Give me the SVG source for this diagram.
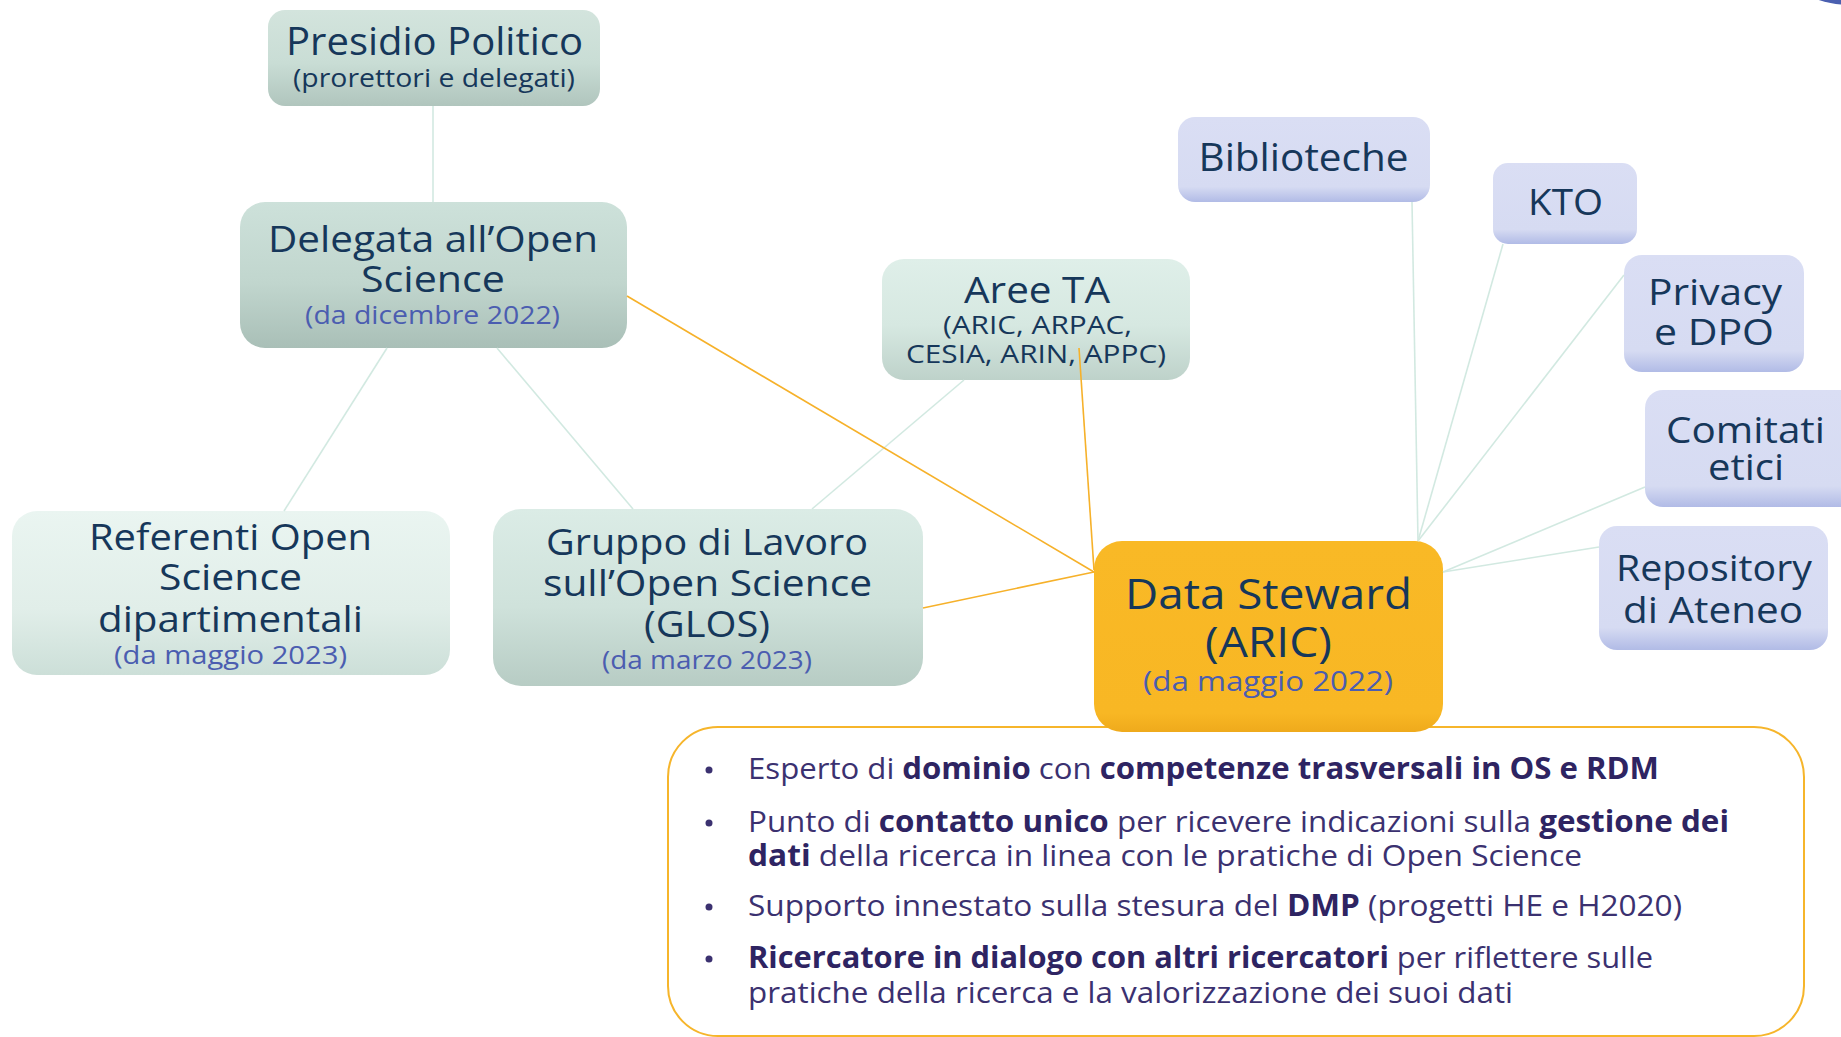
<svg xmlns="http://www.w3.org/2000/svg" width="1841" height="1037" viewBox="0 0 1841 1037">
<style>
.t{font-family:"Open Sans","Noto Sans","Liberation Sans",sans-serif;fill:#16375a;text-anchor:middle}
.sub{font-family:"Open Sans","Noto Sans","Liberation Sans",sans-serif;fill:#4b5db0;text-anchor:middle}
.b{font-family:"Open Sans","Noto Sans","Liberation Sans",sans-serif;fill:#3b3170;font-size:30px}
.bb{font-weight:700;fill:#2e2462}
.teal{stroke:#d2e9e1;stroke-width:1.6;fill:none}
.orng{stroke:#f6b12a;stroke-width:1.6;fill:none}
</style>
<defs>
<linearGradient id="gTealA" x1="0" y1="0" x2="0" y2="1">
<stop offset="0" stop-color="#d3e4dd"/><stop offset="0.55" stop-color="#c9ddd5"/><stop offset="1" stop-color="#b0c5bd"/>
</linearGradient>
<linearGradient id="gTealB" x1="0" y1="0" x2="0" y2="1">
<stop offset="0" stop-color="#cde1da"/><stop offset="0.55" stop-color="#c1d6ce"/><stop offset="1" stop-color="#a9bfb7"/>
</linearGradient>
<linearGradient id="gTealL" x1="0" y1="0" x2="0" y2="1">
<stop offset="0" stop-color="#eaf5f1"/><stop offset="0.6" stop-color="#e1eee9"/><stop offset="1" stop-color="#ccdfd8"/>
</linearGradient>
<linearGradient id="gTealM" x1="0" y1="0" x2="0" y2="1">
<stop offset="0" stop-color="#dbece6"/><stop offset="0.55" stop-color="#cfe2db"/><stop offset="1" stop-color="#b7ccc4"/>
</linearGradient>
<linearGradient id="gTealT" x1="0" y1="0" x2="0" y2="1">
<stop offset="0" stop-color="#dfefe9"/><stop offset="0.55" stop-color="#d6e8e1"/><stop offset="1" stop-color="#bed2ca"/>
</linearGradient>
<linearGradient id="gBlue" x1="0" y1="0" x2="0" y2="1">
<stop offset="0" stop-color="#dadef4"/><stop offset="0.82" stop-color="#d6dbf2"/><stop offset="1" stop-color="#b1bbe6"/>
</linearGradient>
<linearGradient id="gGold" x1="0" y1="0" x2="0" y2="1">
<stop offset="0" stop-color="#f9b926"/><stop offset="0.9" stop-color="#f8b724"/><stop offset="1" stop-color="#efaa1c"/>
</linearGradient>
</defs>
<rect width="1841" height="1037" fill="#ffffff"/>
<circle cx="1850" cy="-95" r="100" fill="#4a5fb0"/>

<g id="info-box">
<rect x="668" y="727" width="1136" height="309" rx="50" fill="#ffffff" stroke="#f6b52b" stroke-width="2"/>
<g fill="#3b3170">
<circle cx="709" cy="770" r="3.5"/><circle cx="709" cy="823" r="3.5"/><circle cx="709" cy="907" r="3.5"/><circle cx="709" cy="959" r="3.5"/>
</g>
<text class="b" x="748" y="779" textLength="911" lengthAdjust="spacingAndGlyphs">Esperto di <tspan class="bb">dominio</tspan> con <tspan class="bb">competenze trasversali in OS e RDM</tspan></text>
<text class="b" x="748" y="832" textLength="981" lengthAdjust="spacingAndGlyphs">Punto di <tspan class="bb">contatto unico</tspan> per ricevere indicazioni sulla <tspan class="bb">gestione dei</tspan></text>
<text class="b" x="748" y="866" textLength="834" lengthAdjust="spacingAndGlyphs"><tspan class="bb">dati</tspan> della ricerca in linea con le pratiche di Open Science</text>
<text class="b" x="748" y="916" textLength="934" lengthAdjust="spacingAndGlyphs">Supporto innestato sulla stesura del <tspan class="bb">DMP</tspan> (progetti HE e H2020)</text>
<text class="b" x="748" y="968" textLength="905" lengthAdjust="spacingAndGlyphs"><tspan class="bb">Ricercatore in dialogo con altri ricercatori</tspan> per riflettere sulle</text>
<text class="b" x="748" y="1003" textLength="765" lengthAdjust="spacingAndGlyphs">pratiche della ricerca e la valorizzazione dei suoi dati</text>
</g>

<g id="presidio-politico">
<rect x="268" y="10" width="332" height="96" rx="17" fill="url(#gTealA)"/>
<text class="t" x="434.5" y="55" font-size="38" textLength="297" lengthAdjust="spacingAndGlyphs">Presidio Politico</text>
<text class="t" x="434" y="87" font-size="26" textLength="282" lengthAdjust="spacingAndGlyphs">(prorettori e delegati)</text>
</g>

<g id="delegata">
<rect x="240" y="202" width="387" height="146" rx="25" fill="url(#gTealB)"/>
<text class="t" x="433" y="252" font-size="37" textLength="330" lengthAdjust="spacingAndGlyphs">Delegata all’Open</text>
<text class="t" x="433" y="292" font-size="37" textLength="144" lengthAdjust="spacingAndGlyphs">Science</text>
<text class="sub" x="432.5" y="324" font-size="26" textLength="255" lengthAdjust="spacingAndGlyphs">(da dicembre 2022)</text>
</g>

<g id="referenti">
<rect x="12" y="511" width="438" height="164" rx="25" fill="url(#gTealL)"/>
<text class="t" x="230.5" y="550" font-size="37" textLength="283" lengthAdjust="spacingAndGlyphs">Referenti Open</text>
<text class="t" x="230.5" y="590" font-size="37" textLength="143" lengthAdjust="spacingAndGlyphs">Science</text>
<text class="t" x="230.5" y="632" font-size="37" textLength="265" lengthAdjust="spacingAndGlyphs">dipartimentali</text>
<text class="sub" x="230.5" y="664" font-size="26" textLength="233" lengthAdjust="spacingAndGlyphs">(da maggio 2023)</text>
</g>

<g id="glos">
<rect x="493" y="509" width="430" height="177" rx="28" fill="url(#gTealM)"/>
<text class="t" x="707" y="555" font-size="37" textLength="322" lengthAdjust="spacingAndGlyphs">Gruppo di Lavoro</text>
<text class="t" x="707.5" y="596" font-size="37" textLength="329" lengthAdjust="spacingAndGlyphs">sull’Open Science</text>
<text class="t" x="707" y="637" font-size="37" textLength="126" lengthAdjust="spacingAndGlyphs">(GLOS)</text>
<text class="sub" x="707" y="669" font-size="26" textLength="210" lengthAdjust="spacingAndGlyphs">(da marzo 2023)</text>
</g>

<g id="aree-ta">
<rect x="882" y="259" width="308" height="121" rx="22" fill="url(#gTealT)"/>
<text class="t" x="1037" y="303" font-size="37" textLength="146" lengthAdjust="spacingAndGlyphs">Aree TA</text>
<text class="t" x="1037.5" y="334" font-size="26" textLength="189" lengthAdjust="spacingAndGlyphs">(ARIC, ARPAC,</text>
<text class="t" x="1036" y="363" font-size="26" textLength="260" lengthAdjust="spacingAndGlyphs">CESIA, ARIN, APPC)</text>
</g>

<g id="biblioteche">
<rect x="1178" y="117" width="252" height="85" rx="17" fill="url(#gBlue)"/>
<text class="t" x="1303.5" y="171" font-size="38" textLength="210" lengthAdjust="spacingAndGlyphs">Biblioteche</text>
</g>

<g id="kto">
<rect x="1493" y="163" width="144" height="81" rx="15" fill="url(#gBlue)"/>
<text class="t" x="1565.5" y="215" font-size="37" textLength="75" lengthAdjust="spacingAndGlyphs">KTO</text>
</g>

<g id="privacy-dpo">
<rect x="1624" y="255" width="180" height="117" rx="18" fill="url(#gBlue)"/>
<text class="t" x="1715" y="305" font-size="37" textLength="134" lengthAdjust="spacingAndGlyphs">Privacy</text>
<text class="t" x="1714" y="345" font-size="37" textLength="120" lengthAdjust="spacingAndGlyphs">e DPO</text>
</g>

<g id="comitati-etici">
<rect x="1645" y="390" width="215" height="117" rx="18" fill="url(#gBlue)"/>
<text class="t" x="1745.5" y="443" font-size="37" textLength="159" lengthAdjust="spacingAndGlyphs">Comitati</text>
<text class="t" x="1746" y="480" font-size="37" textLength="76" lengthAdjust="spacingAndGlyphs">etici</text>
</g>

<g id="repository">
<rect x="1599" y="526" width="229" height="124" rx="18" fill="url(#gBlue)"/>
<text class="t" x="1714" y="581" font-size="37" textLength="196" lengthAdjust="spacingAndGlyphs">Repository</text>
<text class="t" x="1713" y="623" font-size="37" textLength="180" lengthAdjust="spacingAndGlyphs">di Ateneo</text>
</g>

<g id="data-steward">
<rect x="1094" y="541" width="349" height="191" rx="28" fill="url(#gGold)"/>
<text class="t" x="1268.5" y="609" font-size="42" textLength="287" lengthAdjust="spacingAndGlyphs">Data Steward</text>
<text class="t" x="1268.5" y="657" font-size="42" textLength="127" lengthAdjust="spacingAndGlyphs">(ARIC)</text>
<text class="sub" x="1268" y="691" font-size="28" textLength="250" lengthAdjust="spacingAndGlyphs">(da maggio 2022)</text>
</g>

<g id="connectors">
<line class="teal" x1="433" y1="106" x2="433" y2="202"/>
<line class="teal" x1="387" y1="348" x2="284" y2="511"/>
<line class="teal" x1="497" y1="348" x2="633" y2="509"/>
<line class="teal" x1="964" y1="380" x2="812" y2="509"/>
<line class="orng" x1="627" y1="296" x2="1094" y2="572"/>
<line class="orng" x1="923" y1="608" x2="1094" y2="572"/>
<line class="orng" x1="1079" y1="348" x2="1094" y2="570"/>
<line class="teal" x1="1412" y1="202" x2="1418" y2="541"/>
<line class="teal" x1="1503" y1="244" x2="1418" y2="541"/>
<line class="teal" x1="1624" y1="275" x2="1418" y2="541"/>
<line class="teal" x1="1645" y1="487" x2="1443" y2="572"/>
<line class="teal" x1="1599" y1="547" x2="1443" y2="572"/>
</g>
</svg>
